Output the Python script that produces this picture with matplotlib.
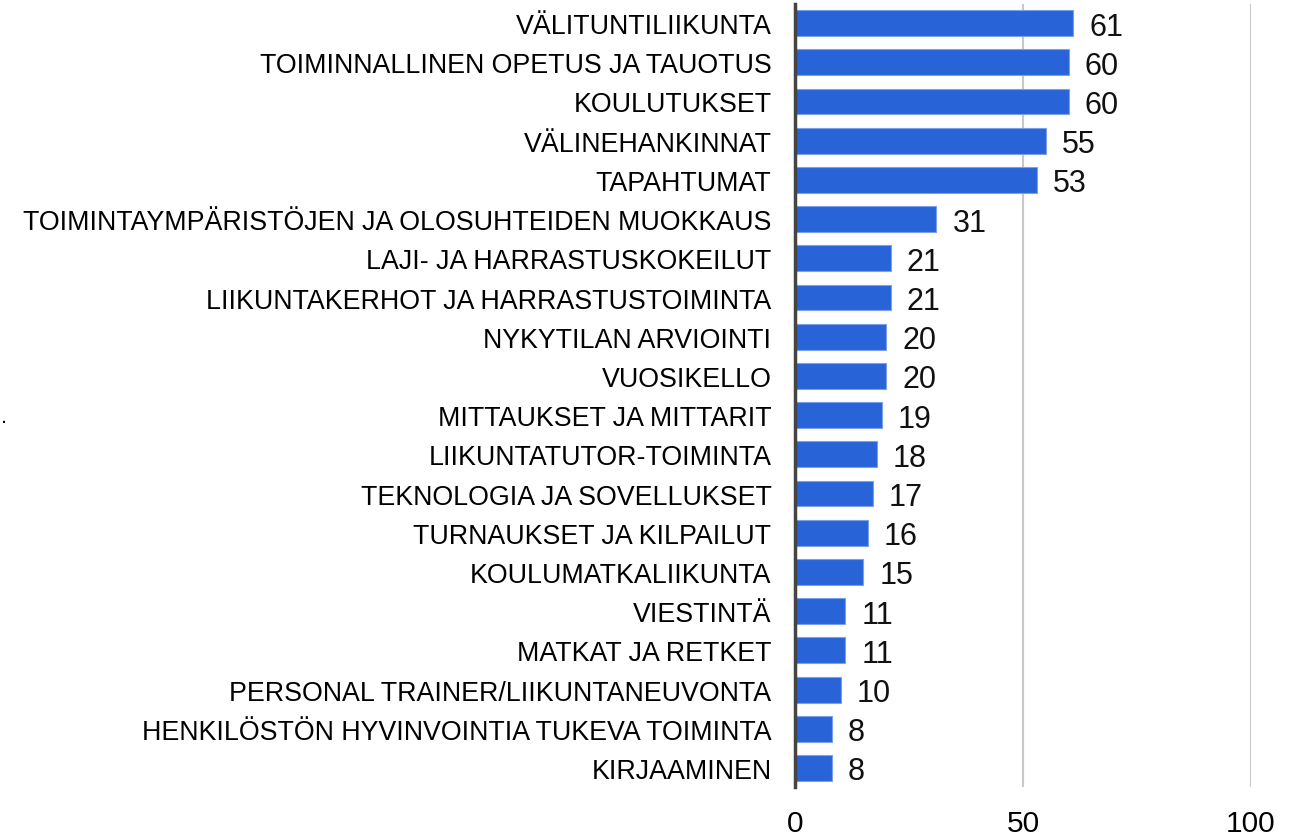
import matplotlib.pyplot as plt
import numpy as np

plt.rcParams['font.family'] = ['Liberation Sans', 'DejaVu Sans']

categories = [
    'VÄLITUNTILIIKUNTA',
    'TOIMINNALLINEN OPETUS JA TAUOTUS',
    'KOULUTUKSET',
    'VÄLINEHANKINNAT',
    'TAPAHTUMAT',
    'TOIMINTAYMPÄRISTÖJEN JA OLOSUHTEIDEN MUOKKAUS',
    'LAJI- JA HARRASTUSKOKEILUT',
    'LIIKUNTAKERHOT JA HARRASTUSTOIMINTA',
    'NYKYTILAN ARVIOINTI',
    'VUOSIKELLO',
    'MITTAUKSET JA MITTARIT',
    'LIIKUNTATUTOR-TOIMINTA',
    'TEKNOLOGIA JA SOVELLUKSET',
    'TURNAUKSET JA KILPAILUT',
    'KOULUMATKALIIKUNTA',
    'VIESTINTÄ',
    'MATKAT JA RETKET',
    'PERSONAL TRAINER/LIIKUNTANEUVONTA',
    'HENKILÖSTÖN HYVINVOINTIA TUKEVA TOIMINTA',
    'KIRJAAMINEN',
]
values = [61, 60, 60, 55, 53, 31, 21, 21, 20, 20, 19, 18, 17, 16, 15, 11, 11, 10, 8, 8]
xticks = [0, 50, 100]

fig = plt.figure(figsize=(12.94, 8.37), dpi=100)
ax = fig.add_axes([0.6144, 0.0585, 0.9668 - 0.6144, 0.994 - 0.0585])

y = np.arange(len(categories))
bars = ax.barh(y, values, height=0.66, color='#2864d8', edgecolor='#7aa0ec',
               linewidth=0.8, zorder=3)

for yi, v in zip(y, values):
    ax.annotate(str(v), (v, yi), xytext=(11.5, -2.5), textcoords='offset points',
                va='center', ha='left', fontsize=22, color='#111111')

ax.set_xlim(0, 100)
ax.set_ylim(len(categories) - 0.515, -0.485)
ax.set_yticks(y)
ax.set_yticklabels(categories, fontsize=19.3)
ax.set_xticks(xticks)
ax.set_xticklabels([str(t) for t in xticks], fontsize=21.5)
ax.tick_params(axis='y', length=0, pad=17)
ax.tick_params(axis='x', length=0, pad=16)

for t in xticks[1:]:
    ax.axvline(t, color='#c8c8c8', linewidth=1.5, zorder=1)

for s in ['top', 'right', 'bottom']:
    ax.spines[s].set_visible(False)
ax.spines['left'].set_color('#444444')
ax.spines['left'].set_linewidth(2.5)
ax.spines['left'].set_zorder(4)

fig.text(0.001, 1 - 418 / 837, '.', fontsize=16, ha='left', va='center')

fig.savefig('out.png', dpi=100)
